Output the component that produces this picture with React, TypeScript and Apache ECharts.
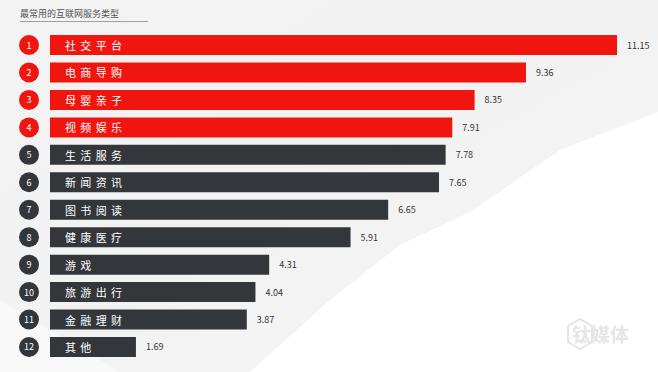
import React, { useEffect, useRef } from "react";
import * as echarts from "echarts";

const title = "最常用的互联网服务类型";
const categories = [
  "社交平台",
  "电商导购",
  "母婴亲子",
  "视频娱乐",
  "生活服务",
  "新闻资讯",
  "图书阅读",
  "健康医疗",
  "游戏",
  "旅游出行",
  "金融理财",
  "其他",
];
const values = [11.15, 9.36, 8.35, 7.91, 7.78, 7.65, 6.65, 5.91, 4.31, 4.04, 3.87, 1.69];
const ranks = ["1", "2", "3", "4", "5", "6", "7", "8", "9", "10", "11", "12"];
const highlightCount = 4;

const RED = "#f0150f";
const DARK = "#33363a";
const FONT = "'Noto Sans CJK SC', 'Noto Sans', sans-serif";

export default function App() {
  const ref = useRef<HTMLDivElement>(null);
  useEffect(() => {
    document.body.style.margin = "0";
    const chart = echarts.init(ref.current!, undefined, { renderer: "svg" });
    chart.setOption({
      animation: false,
      backgroundColor: "#ffffff",
      textStyle: { fontFamily: FONT },
      graphic: [
        {
          type: "rect",
          z: -10,
          shape: { x: 0, y: 0, width: 658, height: 372 },
          style: {
            fill: {
              type: "linear",
              x: 0,
              y: 0,
              x2: 1,
              y2: 1,
              colorStops: [
                { offset: 0, color: "#f3f3f3" },
                { offset: 0.5, color: "#f2f2f2" },
                { offset: 1, color: "#f7f7f7" },
              ],
            },
          },
        },
        {
          type: "polygon",
          z: -9,
          shape: {
            points: [
              [658, 112],
              [560, 150],
              [470, 212],
              [400, 245],
              [330, 300],
              [250, 372],
              [658, 372],
            ],
          },
          style: { fill: "#ffffff" },
        },
        {
          type: "polygon",
          z: -9,
          shape: {
            points: [
              [0, 300],
              [120, 372],
              [0, 372],
            ],
          },
          style: { fill: "#f8f8f8" },
        },
        {
          type: "text",
          left: 20,
          top: 9,
          style: {
            text: title,
            fontSize: 9,
            fill: "#555555",
            fontFamily: FONT,
          },
        },
        {
          type: "line",
          shape: { x1: 20, y1: 21.5, x2: 148, y2: 21.5 },
          style: { stroke: "#a0a0a0", lineWidth: 1 },
        },
        {
          type: "polygon",
          z: -5,
          shape: {
            points: [
              [568, 326],
              [580, 319],
              [592, 326],
              [592, 342],
              [580, 349],
              [568, 342],
            ],
          },
          style: { fill: "none", stroke: "#e4e4e4", lineWidth: 2 },
        },
        {
          type: "text",
          left: 572,
          top: 324,
          z: -5,
          style: {
            text: "钛媒体",
            fontSize: 19,
            fontWeight: "bold",
            fill: "#e6e6e6",
            fontFamily: FONT,
          },
        },
      ],
      grid: { left: 50, width: 567, top: 31.3, height: 329.4 },
      xAxis: {
        type: "value",
        min: 0,
        max: 11.15,
        show: false,
      },
      yAxis: {
        type: "category",
        inverse: true,
        data: categories,
        axisLine: { show: false },
        axisTick: { show: false },
        splitLine: { show: false },
        axisLabel: {
          margin: 11,
          formatter: (_v: string, i: number) =>
            (i < highlightCount ? "{r|" : "{d|") + ranks[i] + "}",
          rich: {
            r: {
              width: 20,
              height: 20,
              lineHeight: 20,
              borderRadius: 10,
              backgroundColor: RED,
              color: "#ffffff",
              align: "center",
              fontSize: 9,
              fontFamily: FONT,
            },
            d: {
              width: 20,
              height: 20,
              lineHeight: 20,
              borderRadius: 10,
              backgroundColor: DARK,
              color: "#ffffff",
              align: "center",
              fontSize: 9,
              fontFamily: FONT,
            },
          },
        },
      },
      series: [
        {
          type: "bar",
          barWidth: 20,
          data: values.map((v, i) => ({
            value: v,
            itemStyle: { color: i < highlightCount ? RED : DARK },
          })),
          label: {
            show: true,
            position: "insideLeft",
            distance: 15,
            color: "#ffffff",
            fontSize: 11,
            fontFamily: FONT,
            formatter: (p: any) => String(p.name).split("").join("\u2004\u200a"),
          },
        },
        {
          type: "bar",
          barWidth: 20,
          barGap: "-100%",
          data: values,
          itemStyle: { color: "rgba(0,0,0,0)" },
          label: {
            show: true,
            position: "right",
            distance: 10,
            color: "#333333",
            fontSize: 9,
            fontFamily: FONT,
          },
        },
      ],
    });
    return () => chart.dispose();
  }, []);
  return (
    <div
      ref={ref}
      style={{ position: "absolute", left: 0, top: 0, width: 658, height: 372 }}
    />
  );
}
